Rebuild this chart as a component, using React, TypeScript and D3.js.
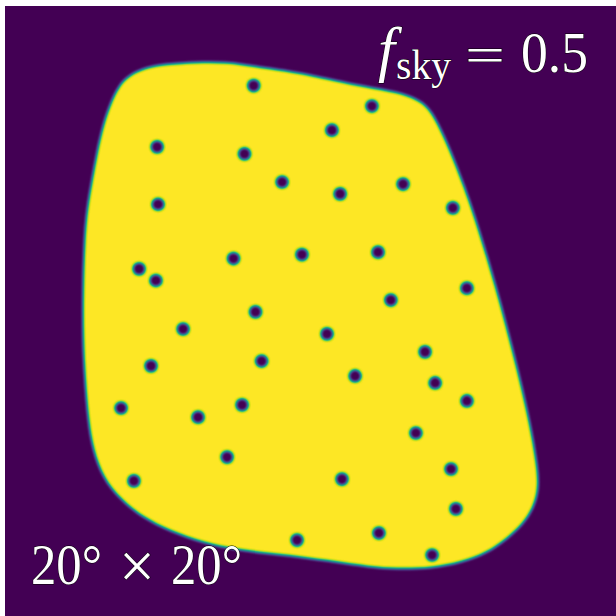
import React, { useEffect, useRef } from 'react'
import * as d3 from 'd3'

// mask geometry in degrees, measured from the top left corner of the 20 x 20 patch
const boundaryX = [6.28, 7.27, 8.12, 9.23, 9.98, 10.74, 11.85, 12.83, 13.49, 13.85, 14.17, 14.57, 14.99, 15.45, 16.10, 16.53, 16.86, 17.18, 17.41, 17.48, 17.30, 16.96, 16.43, 15.78, 14.89, 14.01, 13.03, 12.18, 11.06, 9.98, 8.67, 7.59, 6.48, 5.40, 4.52, 3.76, 3.21, 2.88, 2.72, 2.62, 2.55, 2.55, 2.60, 2.68, 2.85, 3.01, 3.21, 3.47, 3.72, 4.03, 4.52, 5.30]
const boundaryY = [1.84, 1.84, 1.97, 2.13, 2.27, 2.43, 2.66, 2.82, 3.05, 3.32, 3.84, 4.72, 5.80, 7.11, 9.31, 10.95, 12.26, 13.67, 14.98, 15.80, 16.46, 16.98, 17.47, 17.93, 18.26, 18.42, 18.46, 18.42, 18.26, 18.10, 17.96, 17.83, 17.60, 17.21, 16.78, 16.16, 15.47, 14.56, 13.57, 12.26, 10.95, 9.31, 7.67, 6.69, 5.70, 4.82, 3.90, 3.15, 2.63, 2.30, 2.04, 1.90]

const holeX = [8.14, 12.01, 10.70, 4.98, 7.84, 9.07, 10.97, 13.03, 5.01, 14.66, 4.39, 4.94, 7.48, 9.72, 12.21, 15.12, 12.63, 8.20, 5.83, 10.54, 4.78, 8.40, 13.75, 11.46, 14.08, 3.80, 6.32, 7.76, 15.12, 13.45, 7.27, 14.60, 11.03, 4.22, 14.76, 9.56, 12.24, 13.98]
const holeY = [2.61, 3.28, 4.07, 4.62, 4.85, 5.77, 6.16, 5.84, 6.50, 6.62, 8.62, 9.00, 8.28, 8.15, 8.07, 9.25, 9.64, 10.03, 10.59, 10.75, 11.80, 11.64, 11.34, 12.13, 12.36, 13.18, 13.48, 13.08, 12.95, 14.00, 14.79, 15.18, 15.51, 15.57, 16.49, 17.51, 17.28, 18.00]

const holeRadius = 0.2

const App = () => {
  const ref = useRef<SVGSVGElement>(null)

  useEffect(() => {
    const svg = d3.select(ref.current)
    svg.selectAll('*').remove()

    const xScale = d3.scaleLinear().domain([0, 20]).range([5, 616])
    const yScale = d3.scaleLinear().domain([0, 20]).range([6, 616])

    // white page behind the patch
    svg.append('rect').attr('width', 616).attr('height', 616).attr('fill', '#fff')

    // blur the binary mask, then map it through viridis
    const defs = svg.append('defs')
    const filter = defs.append('filter')
      .attr('id', 'apod')
      .attr('filterUnits', 'userSpaceOnUse')
      .attr('x', -20).attr('y', -20).attr('width', 660).attr('height', 660)
      .attr('color-interpolation-filters', 'sRGB')
    filter.append('feGaussianBlur').attr('stdDeviation', 1.7)
    const table = d3.range(0, 1.0001, 0.05).map(t => d3.rgb(d3.interpolateViridis(t)))
    const transfer = filter.append('feComponentTransfer')
    transfer.append('feFuncR').attr('type', 'table').attr('tableValues', table.map(c => c.r / 255).join(' '))
    transfer.append('feFuncG').attr('type', 'table').attr('tableValues', table.map(c => c.g / 255).join(' '))
    transfer.append('feFuncB').attr('type', 'table').attr('tableValues', table.map(c => c.b / 255).join(' '))

    const clip = defs.append('clipPath').attr('id', 'patch')
    clip.append('rect').attr('x', 5).attr('y', 6).attr('width', 611).attr('height', 610)

    const line = d3.line<number>()
      .x(i => xScale(boundaryX[i]))
      .y(i => yScale(boundaryY[i]))
      .curve(d3.curveBasisClosed)

    const mask = svg.append('g').attr('clip-path', 'url(#patch)').append('g').attr('filter', 'url(#apod)')
    mask.append('rect').attr('x', -20).attr('y', -20).attr('width', 660).attr('height', 660).attr('fill', '#000')
    mask.append('path').attr('d', line(d3.range(boundaryX.length))).attr('fill', '#fff')
    mask.selectAll('circle')
      .data(d3.range(holeX.length))
      .join('circle')
      .attr('cx', i => xScale(holeX[i]))
      .attr('cy', i => yScale(holeY[i]))
      .attr('r', xScale(holeRadius) - xScale(0))
      .attr('fill', '#000')

    // labels, placed piece by piece because the original is set in Computer Modern
    const label = svg.append('g')
      .attr('font-family', '"Liberation Serif", serif')
      .attr('fill', '#fff')
      .attr('stroke', '#000')
      .attr('stroke-width', 1)
      .attr('paint-order', 'stroke')

    const put = (text: string, x: number, y: number, size: number, width: number, italic = false) => {
      label.append('text')
        .attr('x', x)
        .attr('y', y)
        .attr('font-size', size)
        .attr('font-style', italic ? 'italic' : 'normal')
        .attr('textLength', width)
        .attr('lengthAdjust', 'spacingAndGlyphs')
        .text(text)
    }

    put('f', 378, 70, 62, 17, true)
    put('sky', 396, 79, 42, 55)
    put('=', 465, 72, 50, 40)
    put('0.5', 521, 72, 58, 67)

    put('20°', 31, 584, 58, 71)
    put('×', 119, 588, 66, 36)
    put('20°', 171, 584, 58, 71)
  }, [])

  return (
    <svg
      ref={ref}
      width={616}
      height={616}
      style={{ position: 'fixed', left: 0, top: 0, display: 'block' }}
    />
  )
}

export default App
